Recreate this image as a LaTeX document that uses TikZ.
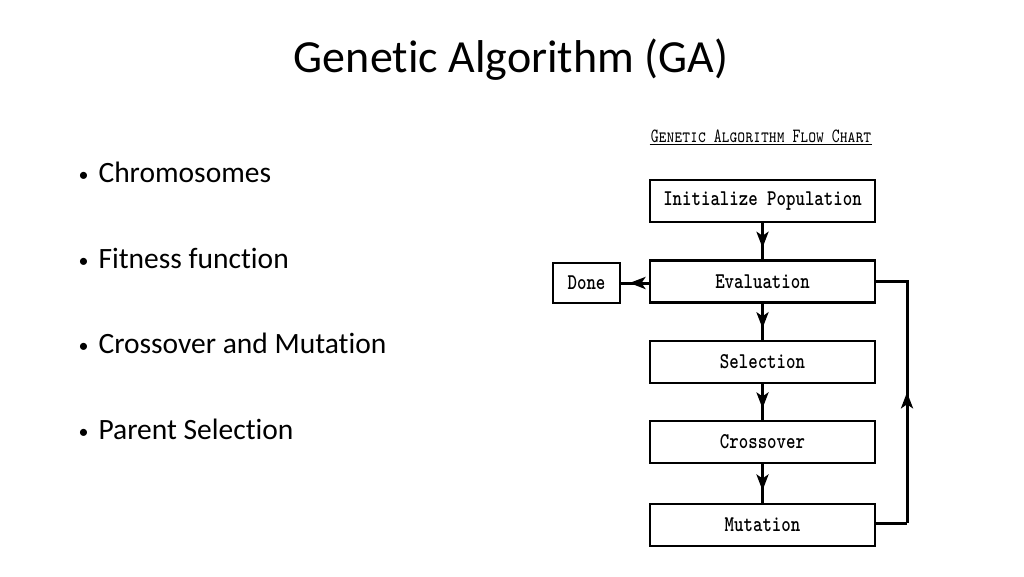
\documentclass[tikz,border=0pt]{standalone}
\usepackage{fontspec}
\setmainfont{Carlito}[RawFeature={-liga;-calt;-dlig;-clig}]
\usetikzlibrary{arrows.meta,decorations.markings,calc}
\tikzset{
  stepbox/.style={draw=black,line width=2.2pt,minimum width=225pt,minimum height=42pt,inner sep=0pt,font=\fontsize{18}{20}\selectfont\ttfamily\bfseries},
  flowline/.style={line width=3pt,postaction={decorate},decoration={markings,mark=at position #1 with {\arrow{Stealth[length=16pt,width=12pt,inset=4pt]}}}},
  flowline/.default=0.68,
  bullet/.style={anchor=base west,font=\fontsize{29.5}{32}\selectfont},
}
\newcommand{\bul}{\makebox[20pt][l]{\raisebox{1pt}{\fontsize{20}{20}\selectfont •}}}
\newcommand{\tall}[1]{\scalebox{1}[1.25]{#1}}
\begin{document}
\begin{tikzpicture}[x=1pt,y=-1pt]
\useasboundingbox[fill=white] (0,0) rectangle (1024,576);
\node[font=\fontsize{46}{50}\selectfont] (title) at (511,60) {Genetic Algorithm (GA)};
\node[bullet] (b1) at (75,182) {\bul Chromosomes};
\node[bullet] (b2) at (75,268) {\bul Fitness function};
\node[bullet] (b3) at (75,353) {\bul Crossover and Mutation};
\node[bullet] (b4) at (75,439) {\bul Parent Selection};
\node[font=\fontsize{15}{17}\selectfont\ttfamily\scshape,inner sep=1pt] (ct) at (761,136) {\scalebox{1}[1.35]{Genetic Algorithm Flow Chart}};
\draw[line width=1.5pt] ($(ct.south west)+(0,1)$) -- ($(ct.south east)+(0,1)$);
\node[stepbox] (init) at (762.5,201) {\tall{Initialize Population}};
\node[stepbox] (eval) at (762.5,281.5) {\tall{Evaluation}};
\node[stepbox,minimum width=67pt,minimum height=40pt] (done) at (586.5,283) {\tall{Done}};
\node[stepbox] (sel) at (762.5,362) {\tall{Selection}};
\node[stepbox] (cross) at (762.5,442) {\tall{Crossover}};
\node[stepbox] (mut) at (762.5,525) {\tall{Mutation}};
\draw[flowline] (init) -- (eval);
\draw[flowline] (eval) -- (sel);
\draw[flowline] (sel) -- (cross);
\draw[flowline] (cross) -- (mut);
\draw[flowline=0.7] (eval.west|-done.east) -- (done.east);
\coordinate (c1) at (907,523);
\coordinate (c2) at (907,281);
\draw[line width=3pt] (mut.east|-c1) -- (c1);
\draw[flowline=0.54] (c1) -- (c2);
\draw[line width=3pt,line join=miter] ($(c2)+(0,1.5)$) -- (c2) -- (eval.east|-c2);
\end{tikzpicture}
\end{document}
